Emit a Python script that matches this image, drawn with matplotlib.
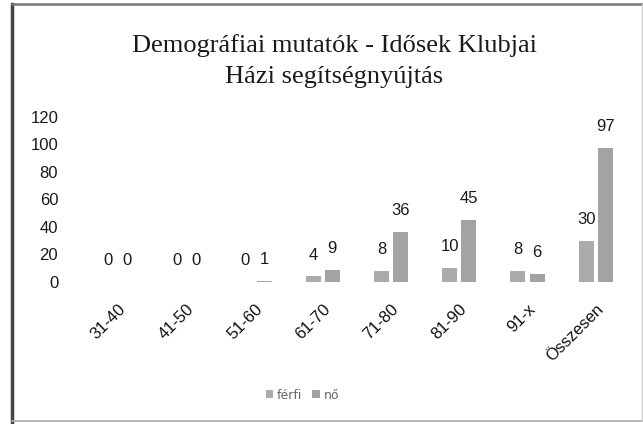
import numpy as np
import matplotlib.pyplot as plt
from matplotlib.lines import Line2D

# Age groups and counts
categories = ["31-40", "41-50", "51-60", "61-70", "71-80", "81-90", "91-x", "Összesen"]
ferfi = [0, 0, 0, 4, 8, 10, 8, 30]
no = [0, 0, 1, 9, 36, 45, 6, 97]
yticks = [0, 20, 40, 60, 80, 100, 120]

fig = plt.figure(figsize=(6.43, 4.24), dpi=100)
ax = fig.add_axes([0.125, 0.335, 0.86, 0.39])

x = np.arange(len(categories))
w = 0.22
b1 = ax.bar(x - 0.14, ferfi, w, color="#ababab", label="férfi")
b2 = ax.bar(x + 0.14, no, w, color="#a3a3a3", label="nő")

for bars, vals in ((b1, ferfi), (b2, no)):
    for rect, v in zip(bars, vals):
        ax.annotate(str(v), (rect.get_x() + rect.get_width() / 2, rect.get_height()),
                    xytext=(0, 10), textcoords="offset points", ha="center", va="bottom",
                    fontsize=12, family="Liberation Sans", color="#1a1a1a")

ax.set_ylim(0, 120)
ax.set_yticks(yticks)
ax.set_yticklabels([str(t) for t in yticks], fontsize=12, family="Liberation Sans", color="#1a1a1a")
ax.set_xlim(-0.55, len(categories) - 0.45)
ax.set_xticks(x)
ax.set_xticklabels(categories, rotation=45, ha="right", rotation_mode="anchor",
                   fontsize=12, family="Liberation Sans", color="#111111")
ax.tick_params(axis="y", length=0, pad=16)
ax.tick_params(axis="x", length=0, pad=14)
for s in ax.spines.values():
    s.set_visible(False)

fig.text(0.52, 0.893, "Demográfiai mutatók - Idősek Klubjai", ha="center", va="center",
         fontsize=19, family="Liberation Serif", color="#1a1a1a")
fig.text(0.52, 0.818, "Házi segítségnyújtás", ha="center", va="center",
         fontsize=19, family="Liberation Serif", color="#1a1a1a")

leg = fig.legend(handles=[b1, b2], labels=["férfi", "nő"], loc="center", bbox_to_anchor=(0.47, 0.068),
                 ncol=2, frameon=False, fontsize=9, handlelength=0.6, handleheight=0.6,
                 columnspacing=0.8, handletextpad=0.3)
for t in leg.get_texts():
    t.set_color("#666666")

# scanned frame around the chart
fig.add_artist(Line2D([0.019, 0.019], [0.005, 0.99], transform=fig.transFigure, color="#444444", lw=2.5))
fig.add_artist(Line2D([0.019, 0.998], [0.99, 0.99], transform=fig.transFigure, color="#777777", lw=1.8))
fig.add_artist(Line2D([0.019, 0.998], [0.006, 0.006], transform=fig.transFigure, color="#aaaaaa", lw=1.2))
fig.add_artist(Line2D([0.998, 0.998], [0.006, 0.99], transform=fig.transFigure, color="#cccccc", lw=1.0))

fig.savefig("out.png", dpi=100)
